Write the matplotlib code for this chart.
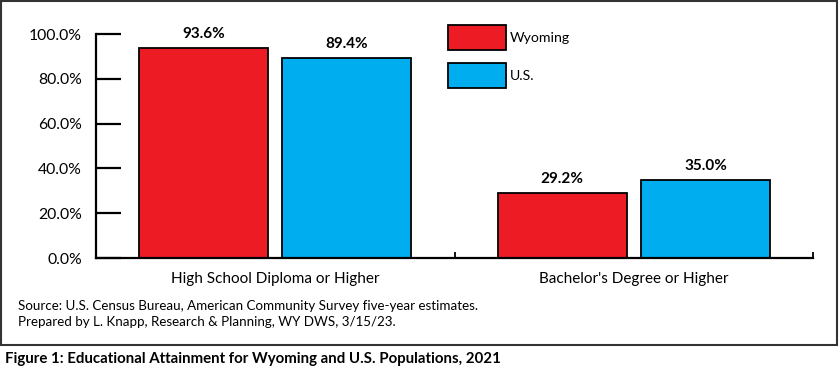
import numpy as np
import matplotlib.pyplot as plt
from matplotlib.patches import Rectangle

plt.rcParams['font.family'] = ['Lato', 'DejaVu Sans']

categories = ["High School Diploma or Higher", "Bachelor's Degree or Higher"]
wyoming = [93.6, 29.2]
us = [89.4, 35.0]
series_names = ["Wyoming", "U.S."]
yticks = [0, 20, 40, 60, 80, 100]
source_lines = ["Source: U.S. Census Bureau, American Community Survey five-year estimates.",
                "Prepared by L. Knapp, Research & Planning, WY DWS, 3/15/23."]
caption = "Figure 1: Educational Attainment for Wyoming and U.S. Populations, 2021"

RED, BLUE = "#ed1c24", "#00aeef"
W, H = 840, 380

fig = plt.figure(figsize=(8.4, 3.8), dpi=100)
# axes in pixels: left 96, right 813, y=0 at 258, y=100 at 34
ax = fig.add_axes([96 / W, 1 - 258 / H, (813 - 96) / W, (258 - 34) / H])

x = np.arange(len(categories))
bw, off = 0.36, 0.2
b1 = ax.bar(x - off, wyoming, bw, color=RED, edgecolor="black", lw=1.3, label=series_names[0])
b2 = ax.bar(x + off, us, bw, color=BLUE, edgecolor="black", lw=1.3, label=series_names[1])
for bars, vals in [(b1, wyoming), (b2, us)]:
    for r, v in zip(bars, vals):
        ax.annotate("%.1f%%" % v, (r.get_x() + r.get_width() / 2, v), xytext=(0, 5),
                    textcoords="offset points", ha="center", va="bottom",
                    fontsize=11, fontweight="bold")

ax.set_xlim(-0.5, 1.5)
ax.set_ylim(0, 100)
ax.set_yticks(yticks)
ax.set_yticklabels(["%.1f%%" % t for t in yticks])
ax.set_xticks(x)
ax.set_xticklabels(categories)
ax.set_xticks([0.5, 1.5], minor=True)
ax.tick_params(axis="x", which="major", length=0, labelsize=11, pad=10)
ax.tick_params(axis="x", which="minor", direction="in", length=4, width=1.3)
ax.tick_params(axis="y", direction="in", length=18, width=1.6, labelsize=11.3, pad=10)
for s in ["top", "right"]:
    ax.spines[s].set_visible(False)
for s in ["left", "bottom"]:
    ax.spines[s].set_linewidth(1.6)
ax.spines["left"].set_bounds(0, 100)

fig.legend(handles=[b1, b2], labels=series_names, loc="upper left",
           bbox_to_anchor=(435 / W, 1 - 12 / H), frameon=False, fontsize=10.2,
           handlelength=4.1, handleheight=2.4, labelspacing=0.88, handletextpad=0.3)

fig.add_artist(Rectangle((1 / W, 1 - 345 / H), 836 / W, 344 / H, transform=fig.transFigure,
                         fill=False, edgecolor="#333333", lw=1.5))
fig.text(18 / W, 1 - 306 / H, source_lines[0], fontsize=9.6, va="center")
fig.text(18 / W, 1 - 322 / H, source_lines[1], fontsize=9.6, va="center")
fig.text(5 / W, 1 - 359 / H, caption, fontsize=10.8, fontweight="bold", va="center")

fig.savefig("out.png", dpi=100)
